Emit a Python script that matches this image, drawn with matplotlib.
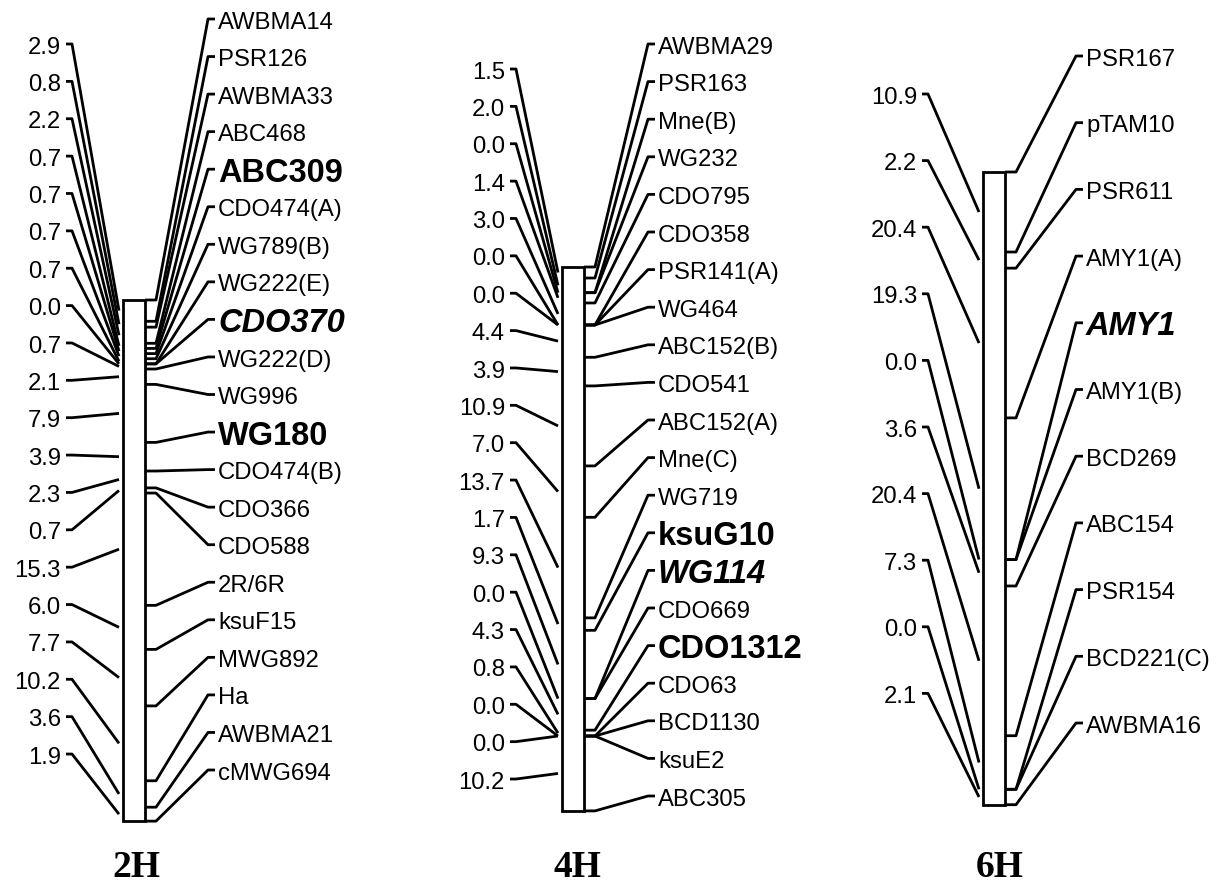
import matplotlib.pyplot as plt
import numpy as np

# ---- data: marker order (top -> bottom) and interval distances (cM) ----
names_2h = ['AWBMA14', 'PSR126', 'AWBMA33', 'ABC468', 'ABC309', 'CDO474(A)',
            'WG789(B)', 'WG222(E)', 'CDO370', 'WG222(D)', 'WG996', 'WG180',
            'CDO474(B)', 'CDO366', 'CDO588', '2R/6R', 'ksuF15', 'MWG892', 'Ha',
            'AWBMA21', 'cMWG694']
dist_2h = [2.9, 0.8, 2.2, 0.7, 0.7, 0.7, 0.7, 0.0, 0.7, 2.1, 7.9, 3.9, 2.3,
           0.7, 15.3, 6.0, 7.7, 10.2, 3.6, 1.9]

names_4h = ['AWBMA29', 'PSR163', 'Mne(B)', 'WG232', 'CDO795', 'CDO358',
            'PSR141(A)', 'WG464', 'ABC152(B)', 'CDO541', 'ABC152(A)', 'Mne(C)',
            'WG719', 'ksuG10', 'WG114', 'CDO669', 'CDO1312', 'CDO63', 'BCD1130',
            'ksuE2', 'ABC305']
dist_4h = [1.5, 2.0, 0.0, 1.4, 3.0, 0.0, 0.0, 4.4, 3.9, 10.9, 7.0, 13.7, 1.7,
           9.3, 0.0, 4.3, 0.8, 0.0, 0.0, 10.2]

names_6h = ['PSR167', 'pTAM10', 'PSR611', 'AMY1(A)', 'AMY1', 'AMY1(B)',
            'BCD269', 'ABC154', 'PSR154', 'BCD221(C)', 'AWBMA16']
dist_6h = [10.9, 2.2, 20.4, 19.3, 0.0, 3.6, 20.4, 7.3, 0.0, 2.1]

titles = ['2H', '4H', '6H']

bold_markers = {'ABC309', 'WG180', 'ksuG10', 'CDO1312'}
bold_italic_markers = {'CDO370', 'WG114', 'AMY1'}

# ---- layout (pixels) ----
W, H = 1218, 887
PX_PER_CM = 7.34
LW = 2.0
FONT = 'Liberation Sans'
FS = 17.2
FS_BOLD = 23.5

layout = [
    dict(bar_left=123, bar_w=22, top=301, r_x=218, r_y0=20, r_dy=37.55,
         l_x=61, l_y0=45, l_dy=37.37, title_x=136),
    dict(bar_left=562, bar_w=22, top=268, r_x=658, r_y0=45, r_dy=37.6,
         l_x=505, l_y0=70, l_dy=37.37, title_x=577),
    dict(bar_left=983, bar_w=22, top=173, r_x=1086, r_y0=57, r_dy=66.7,
         l_x=917, l_y0=95, l_dy=66.6, title_x=1000),
]


def baseline(y, fs):
    # put the visual middle of capitals on y
    return y + 0.716 * fs * 100 / 72 / 2


def draw_chrom(ax, names, dists, title, L):
    pos = np.concatenate([[0.0], np.cumsum(dists)])
    ys = L['top'] + pos * PX_PER_CM
    bl = L['bar_left']
    br = bl + L['bar_w']
    ax.add_patch(plt.Rectangle((bl, ys[0]), br - bl, ys[-1] - ys[0],
                               fc='white', ec='black', lw=LW, zorder=3))

    # marker names on the right
    for i, (name, y) in enumerate(zip(names, ys)):
        ly = L['r_y0'] + i * L['r_dy']
        tx = L['r_x']
        ax.plot([br, br + 11, tx - 10, tx - 3], [y, y, ly, ly],
                color='black', lw=LW, solid_capstyle='butt', zorder=2)
        if name in bold_markers:
            ax.text(tx, baseline(ly, FS_BOLD), name, fontsize=FS_BOLD,
                    fontweight='bold', family=FONT, va='baseline')
        elif name in bold_italic_markers:
            ax.text(tx, baseline(ly, FS_BOLD), name, fontsize=FS_BOLD,
                    fontweight='bold', style='italic', family=FONT, va='baseline')
        else:
            ax.text(tx, baseline(ly, FS), name, fontsize=FS, family=FONT,
                    va='baseline')

    # interval distances on the left
    mids = (ys[:-1] + ys[1:]) / 2
    for i, (d, y) in enumerate(zip(dists, mids)):
        ly = L['l_y0'] + i * L['l_dy']
        tx = L['l_x']
        ax.plot([tx + 5, tx + 11, bl - 4], [ly, ly, y],
                color='black', lw=LW, solid_capstyle='butt', zorder=2)
        ax.text(tx, baseline(ly, FS), f'{d:.1f}', fontsize=FS, family=FONT,
                ha='right', va='baseline')

    ax.text(L['title_x'], 868, title, fontsize=27, fontweight='bold',
            family='Liberation Serif', ha='center', va='center')


fig = plt.figure(figsize=(W / 100, H / 100), dpi=100)
ax = fig.add_axes([0, 0, 1, 1])
ax.set_xlim(0, W)
ax.set_ylim(H, 0)
ax.axis('off')

for names, dists, title, L in zip([names_2h, names_4h, names_6h],
                                  [dist_2h, dist_4h, dist_6h], titles, layout):
    draw_chrom(ax, names, dists, title, L)

fig.savefig('out.png', dpi=100)
